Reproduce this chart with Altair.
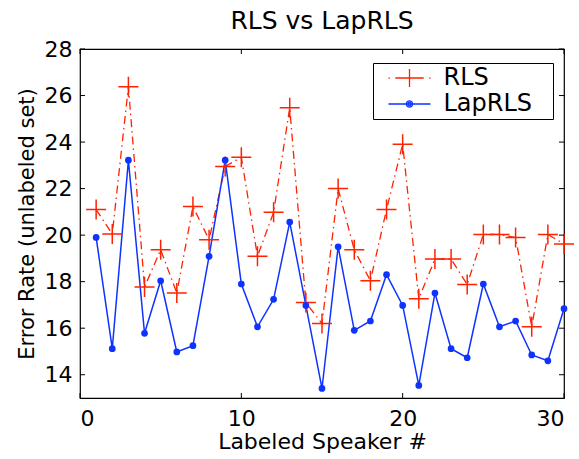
import altair as alt
import pandas as pd

# ---- data ----
speakers = list(range(1, 31))
rls = [21.1, 20.05, 26.38, 17.77, 19.37, 17.51, 21.23, 19.8, 22.95, 23.35,
       19.09, 20.98, 25.47, 17.1, 16.2, 22.0, 19.37, 18.04, 21.1, 23.91,
       17.27, 18.97, 18.97, 17.88, 20.03, 20.03, 19.9, 16.06, 20.03, 19.62]
laprls = [19.9, 15.12, 23.22, 15.78, 18.04, 14.98, 15.25, 19.09, 23.22, 17.9,
          16.06, 17.24, 20.56, 16.98, 13.41, 19.5, 15.91, 16.31, 18.3, 16.98,
          13.54, 17.51, 15.12, 14.73, 17.9, 16.06, 16.31, 14.85, 14.6, 16.84]
x_ticks = [0, 10, 20, 30]
y_ticks = [14, 16, 18, 20, 22, 24, 26, 28]
series_names = ["RLS", "LapRLS"]
series_colors = ["#ff2200", "#0f33ff"]

df = pd.DataFrame({
    "speaker": speakers * 2,
    "error": rls + laprls,
    "series": ["RLS"] * len(rls) + ["LapRLS"] * len(laprls),
})
ytick_df = pd.DataFrame({"speaker": [0] * len(y_ticks), "error": y_ticks})
xtick_df = pd.DataFrame({"speaker": x_ticks, "error": [13] * len(x_ticks)})

W, H = 484, 349
FONT = "DejaVu Sans"
RED, BLUE = series_colors

xs = alt.Scale(domain=[0, 30], nice=False, zero=False)
ys = alt.Scale(domain=[13, 28], nice=False, zero=False)

x_axis = alt.Axis(values=x_ticks, title="Labeled Speaker #", ticks=False,
                  grid=False, domain=False, labelPadding=10,
                  titleBaseline="alphabetic", titleY=50.5, titleX=W / 2)
y_axis = alt.Axis(values=y_ticks, title="Error Rate (unlabeled set)", ticks=False,
                  grid=False, domain=False, labelPadding=8,
                  titleBaseline="alphabetic", titleX=-47, titleY=H / 2,
                  titleFontSize=21)
x_enc = alt.X("speaker:Q", scale=xs, axis=x_axis)
y_enc = alt.Y("error:Q", scale=ys, axis=y_axis)

PLUS = "M-1,0H1M0,-1V1"
LEG_RLS = "M-2,0H-1.88M-1.35,0H1.35M1.88,0H2M0,-0.86V0.86"
LEG_LAP = ("M-2,0H2"
           "M-0.3,0A0.3,0.3 0 1,0 0.3,0A0.3,0.3 0 1,0 -0.3,0"
           "M-0.15,0A0.15,0.15 0 1,0 0.15,0A0.15,0.15 0 1,0 -0.15,0")

base = alt.Chart(df)

red_line = base.transform_filter(alt.datum.series == "RLS").mark_line(
    color=RED, strokeWidth=1.3, strokeDash=[8, 4, 1.5, 4]).encode(x=x_enc, y=y_enc)
blue_line = base.transform_filter(alt.datum.series == "LapRLS").mark_line(
    color=BLUE, strokeWidth=1.5).encode(x=x_enc, y=y_enc)
red_pts = base.transform_filter(alt.datum.series == "RLS").mark_point(
    shape=PLUS, size=400, color=RED, filled=False, strokeWidth=1.5, opacity=1
).encode(x=x_enc, y=y_enc)
blue_pts = base.transform_filter(alt.datum.series == "LapRLS").mark_circle(
    size=45, color=BLUE, opacity=1).encode(x=x_enc, y=y_enc)

leg = alt.Legend(title=None, orient="none", legendX=293, legendY=14,
                 strokeColor="black", fillColor="white", padding=3,
                 symbolSize=441, symbolStrokeWidth=1.3, symbolOffset=21.5,
                 labelOffset=22, labelFont=FONT, labelFontSize=24, labelColor="black",
                 rowPadding=2, labelExpr="datum.label + '\u2800'", symbolOpacity=1)

legend_layer = base.transform_filter("false").mark_point(
    filled=False, opacity=1, strokeWidth=1.3).encode(
    x=x_enc, y=y_enc,
    color=alt.Color("series:N", scale=alt.Scale(domain=series_names, range=series_colors), legend=leg),
    shape=alt.Shape("series:N", scale=alt.Scale(domain=series_names, range=[LEG_RLS, LEG_LAP]), legend=leg),
)

yl = alt.Chart(ytick_df).mark_rule(color="black", strokeWidth=1).encode(
    y=y_enc, x=alt.value(0), x2=alt.value(5))
yr = alt.Chart(ytick_df).mark_rule(color="black", strokeWidth=1).encode(
    y=y_enc, x=alt.value(W - 5), x2=alt.value(W))
xb = alt.Chart(xtick_df).mark_rule(color="black", strokeWidth=1).encode(
    x=x_enc, y=alt.value(H - 5), y2=alt.value(H))
xt = alt.Chart(xtick_df).mark_rule(color="black", strokeWidth=1).encode(
    x=x_enc, y=alt.value(0), y2=alt.value(5))

chart = alt.layer(red_line, blue_line, red_pts, blue_pts, yl, yr, xb, xt, legend_layer).properties(
    width=W, height=H,
    title=alt.TitleParams("RLS vs LapRLS", fontSize=25, font=FONT, fontWeight="normal",
                          color="black", anchor="middle", frame="group",
                          baseline="alphabetic", offset=19, dy=35),
    autosize=alt.AutoSizeParams(type="none"),
    padding={"left": 80, "top": 49, "right": 15, "bottom": 61},
    background="white",
).configure_view(stroke="black", strokeWidth=1.2).configure_axis(
    labelFont=FONT, labelFontSize=22, labelColor="black",
    titleFont=FONT, titleFontSize=22, titleColor="black", titleFontWeight="normal")

chart.save("out.html", embed_options={"renderer": "svg", "actions": False})
